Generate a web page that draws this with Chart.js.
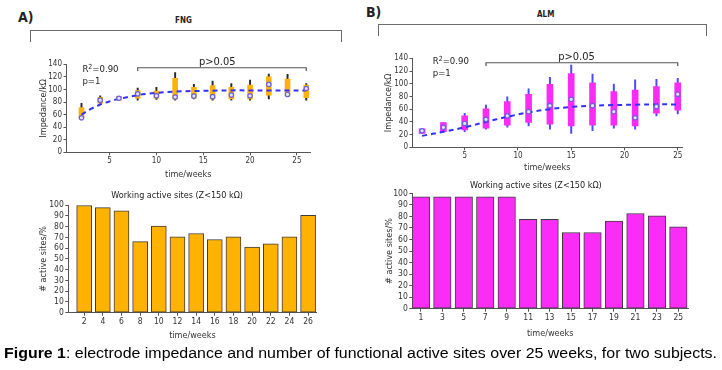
<!DOCTYPE html>
<html>
<head>
<meta charset="utf-8">
<script src="https://cdn.jsdelivr.net/npm/chart.js@4.4.1/dist/chart.umd.min.js"></script>
<style>
  body { margin:0; background:#fff; width:722px; height:370px; position:relative; overflow:hidden;
         font-family:'Liberation Sans Narrow','DejaVu Sans Condensed',sans-serif; color:#222; }
  canvas { position:absolute; left:0; top:0; }
  .lbl { position:absolute; white-space:nowrap; line-height:1; }
  .brk { position:absolute; border:1.3px solid #6a6a6a; border-bottom:none; }
</style>
</head>
<body>
<div class="lbl" style="left:18px;top:10px;font-size:14px;font-weight:bold">A)</div>
<div class="lbl" style="left:175px;top:17px;font-size:8px;font-weight:bold">FNG</div>
<div class="brk" style="left:30px;top:30px;width:310px;height:11px"></div>
<div class="lbl" style="left:366px;top:5px;font-size:14px;font-weight:bold">B)</div>
<div class="lbl" style="left:537px;top:11px;font-size:8px;font-weight:bold">ALM</div>
<div class="brk" style="left:378px;top:24px;width:327px;height:11px"></div>

<canvas id="fngTop" width="722" height="370"></canvas>
<canvas id="fngBar" width="722" height="370"></canvas>
<canvas id="almTop" width="722" height="370"></canvas>
<canvas id="almBar" width="722" height="370"></canvas>

<div id="cap" class="lbl" style="left:4px;top:346px;font-family:'Liberation Sans',sans-serif;font-size:14px;color:#000;transform-origin:0 0">
<b>Figure 1</b>: electrode impedance and number of functional active sites over 25 weeks, for two subjects.</div>

<script>
// ---- data ----
const fngWeeks   = [2, 4, 6, 8, 10, 12, 14, 16, 18, 20, 22, 24, 26];
const fngMedian  = [55, 83, 86, 93, 90, 88, 89.5, 88.5, 91, 90, 108, 92, 101.5];
const fngQ1      = [54, 78, 83, 86, 86, 85, 86, 85, 85, 85, 91, 89.5, 87];
const fngQ3      = [71, 87.5, 89, 98, 97.5, 117.5, 103.5, 106, 103.5, 107, 120, 116.5, 107];
const fngWhiskLo = [54, 78, 83, 83, 84, 83, 85, 83, 83, 83, 85, 89.5, 83];
const fngWhiskHi = [78, 90, 89, 102, 103.5, 127, 108, 113.5, 109.5, 115, 124.5, 124, 109.5];
const fngFitWeeks = [2, 3, 4, 5, 6, 7, 8, 9, 10, 12, 14, 16, 18, 20, 22, 24, 26];
const fngFit      = [60, 69, 76, 81, 85, 88, 91, 93, 94.5, 96.5, 97.5, 98, 98.5, 98.5, 98.5, 98.5, 98.5];
const fngSites   = [99.5, 97.5, 94.5, 66, 80.5, 70.5, 73.5, 68, 70.5, 61, 64, 70.5, 90.5];

const almWeeks   = [1, 3, 5, 7, 9, 11, 13, 15, 17, 19, 21, 23, 25];
const almMedian  = [26, 31.5, 37.5, 44, 49.5, 56, 65.5, 75.5, 65.5, 56, 46.5, 64, 83.5];
const almQ1      = [22, 24.5, 27.5, 30, 35, 39, 36.5, 33.5, 35, 35, 33.5, 53.5, 58.5];
const almQ3      = [29, 39, 49.5, 60.5, 72, 83.5, 99, 116, 101.5, 87.5, 90, 95.5, 101.5];
const almWhiskLo = [22, 24.5, 24.5, 28.5, 31.5, 33.5, 28.5, 22, 26, 30, 28.5, 49.5, 52.5];
const almWhiskHi = [29, 39, 53.5, 66.5, 79.5, 92, 110, 129.5, 115, 99.5, 106, 107, 108.5];
const almFitWeeks = [1, 3, 5, 7, 9, 11, 13, 15, 17, 19, 21, 23, 25];
const almFit      = [18, 24.5, 31.5, 40, 48, 55, 60, 63.5, 65.5, 66.5, 67, 67.5, 67.5];
const almSites   = [97, 97, 97, 97, 97, 77.5, 77.5, 66, 66, 76, 82.5, 80.5, 71];

const impTicks = [5, 10, 15, 20, 25];

const FONT = "'Liberation Sans Narrow','DejaVu Sans Condensed',sans-serif";
Chart.defaults.font.family = FONT;
Chart.defaults.color = '#333';

// text annotations: bracket with p value, R^2 and p
const annot = {
  id: 'annot',
  afterDraw(chart, args, o) {
    if (!o.bracket) return;
    const ctx = chart.ctx, x = chart.scales.x, y = chart.scales.y;
    const [w0, w1, v, drop] = o.bracket;
    const px0 = x.getPixelForValue(w0), px1 = x.getPixelForValue(w1);
    const py = y.getPixelForValue(v), pd = y.getPixelForValue(v - drop);
    ctx.save();
    ctx.strokeStyle = '#555'; ctx.lineWidth = 1.2;
    ctx.beginPath();
    ctx.moveTo(px0, pd); ctx.lineTo(px0, py); ctx.lineTo(px1, py); ctx.lineTo(px1, pd);
    ctx.stroke();
    ctx.fillStyle = '#222';
    ctx.font = '11px ' + FONT;
    ctx.textAlign = 'center'; ctx.textBaseline = 'middle';
    ctx.fillText('p>0.05', x.getPixelForValue(o.pText[0]), y.getPixelForValue(o.pText[1]));
    // R^2 = 0.90
    ctx.textAlign = 'left';
    let tx = x.getPixelForValue(o.rText[0]);
    const ty = y.getPixelForValue(o.rText[1]);
    ctx.font = '9.5px ' + FONT;
    ctx.fillText('R', tx, ty); tx += ctx.measureText('R').width;
    ctx.font = '7px ' + FONT;
    ctx.fillText('2', tx, ty - 3); tx += ctx.measureText('2').width;
    ctx.font = '9.5px ' + FONT;
    ctx.fillText('=0.90', tx, ty);
    ctx.fillText('p=1', x.getPixelForValue(o.rText[0]), y.getPixelForValue(o.rText[2]));
    ctx.restore();
  }
};

function axisX(o, title) {
  return {
    type: 'linear', min: o.xMin, max: o.xMax, offset: false,
    afterBuildTicks: s => { s.ticks = o.xTicks.map(v => ({ value: v })); },
    afterFit: s => { s.height = o.H; },
    grid: { drawOnChartArea: false, tickLength: 3, color: '#555', offset: false },
    border: { color: '#555', width: 1 },
    ticks: { font: { size: o.xFont }, padding: 1, maxRotation: 0, autoSkip: false },
    title: { display: true, text: title, font: { size: 9 }, padding: 0, color: '#333' }
  };
}
function axisY(o, title, max, step) {
  return {
    min: 0, max: max,
    ticks: { stepSize: step, font: { size: o.yFont }, padding: 1.5, autoSkip: false },
    afterFit: s => { s.width = o.W; },
    grid: { drawOnChartArea: false, tickLength: 3, color: '#555' },
    border: { color: '#555', width: 1 },
    title: { display: true, text: title, font: { size: 9 }, padding: 0, color: '#333' }
  };
}
function pad(o, titleH) {
  return { left: o.left - o.W, top: o.top - (titleH || 0), right: 722 - o.right, bottom: 370 - o.bottom - o.H };
}

function boxChart(id, o) {
  const pts = (ws, vs) => ws.map((w, i) => ({ x: w, y: vs[i] }));
  const rng = (lo, hi) => o.weeks.map((w, i) => ({ x: w, y: [lo[i], hi[i]] }));
  new Chart(document.getElementById(id), {
    type: 'bar',
    data: { datasets: [
      { type: 'line', data: pts(o.weeks, o.med), showLine: false, pointRadius: 2.2, pointBorderWidth: 1.2,
        pointBackgroundColor: '#dfe4ff', pointBorderColor: '#6d5fd8', order: 0 },
      { type: 'line', data: pts(o.fitWeeks, o.fit), borderColor: '#3030ff', borderWidth: 2, borderDash: [5, 4],
        pointRadius: 0, tension: 0.35, order: 1 },
      { data: rng(o.q1, o.q3), backgroundColor: o.boxColor, barThickness: o.boxW, grouped: false, order: 2 },
      { data: rng(o.wlo, o.whi), backgroundColor: o.whiskColor, barThickness: 1.3, grouped: false, order: 3 }
    ] },
    options: {
      responsive: false, animation: false, events: [], devicePixelRatio: 1,
      layout: { padding: pad(o) },
      plugins: { legend: { display: false }, tooltip: { enabled: false },
                 annot: { bracket: o.bracket, pText: o.pText, rText: o.rText } },
      scales: { x: axisX(o, 'time/weeks'), y: axisY(o, 'Impedance/kΩ', 140, 20) }
    },
    plugins: [annot]
  });
}

function barChart(id, o) {
  const TH = 10.8 + o.titleGap;
  new Chart(document.getElementById(id), {
    type: 'bar',
    data: { datasets: [{
      data: o.weeks.map((w, i) => ({ x: w, y: o.sites[i] })),
      backgroundColor: o.color, borderColor: '#3c3c3c', borderWidth: 1, borderSkipped: false,
      barThickness: o.barW
    }] },
    options: {
      responsive: false, animation: false, events: [], devicePixelRatio: 1,
      layout: { padding: pad(o, TH) },
      plugins: { legend: { display: false }, tooltip: { enabled: false },
        title: { display: true, text: 'Working active sites (Z<150 kΩ)', color: '#222',
                 font: { size: 9, weight: 'normal' }, padding: { top: 0, bottom: o.titleGap } } },
      scales: { x: axisX(o, 'time/weeks'), y: axisY(o, '# active sites/%', 100, 10) }
    }
  });
}

boxChart('fngTop', {
  weeks: fngWeeks, med: fngMedian, q1: fngQ1, q3: fngQ3, wlo: fngWhiskLo, whi: fngWhiskHi,
  fitWeeks: fngFitWeeks, fit: fngFit, boxColor: '#ffb20f', whiskColor: '#2a2a2a', boxW: 5,
  left: 66.5, right: 310, top: 64.3, bottom: 152.3, W: 28, H: 28, xMin: 0.4, xMax: 26.4,
  xTicks: impTicks, xFont: 8, yFont: 8,
  bracket: [8, 26, 134.5, 5], pText: [16.5, 143.5], rText: [2.1, 131, 113]
});
boxChart('almTop', {
  weeks: almWeeks, med: almMedian, q1: almQ1, q3: almQ3, wlo: almWhiskLo, whi: almWhiskHi,
  fitWeeks: almFitWeeks, fit: almFit, boxColor: '#f92cf6', whiskColor: '#4b4bff', boxW: 6,
  left: 412.5, right: 682, top: 58.3, bottom: 147.3, W: 29.5, H: 26, xMin: 0.1, xMax: 25.4,
  xTicks: impTicks, xFont: 8, yFont: 8,
  bracket: [7, 25, 133, 5], pText: [15.5, 141.5], rText: [2.0, 134.5, 116]
});
barChart('fngBar', {
  weeks: fngWeeks, sites: fngSites, color: '#ffb300', barW: 15,
  left: 68.3, right: 316.5, top: 205, bottom: 312.7, W: 30.5, H: 28.7, xMin: 0.3, xMax: 26.9,
  xTicks: fngWeeks, xFont: 8.5, yFont: 8.5, titleGap: 3.5
});
barChart('almBar', {
  weeks: almWeeks, sites: almSites, color: '#fa2df7', barW: 17.5,
  left: 412.3, right: 688, top: 193.3, bottom: 308.7, W: 28.5, H: 30, xMin: 0.2, xMax: 25.9,
  xTicks: almWeeks, xFont: 8.5, yFont: 8.5, titleGap: 2
});

// fit caption to the figure width
const cap = document.getElementById('cap');
cap.style.transform = 'scaleX(' + (713 / cap.getBoundingClientRect().width) + ')';
</script>
</body>
</html>
